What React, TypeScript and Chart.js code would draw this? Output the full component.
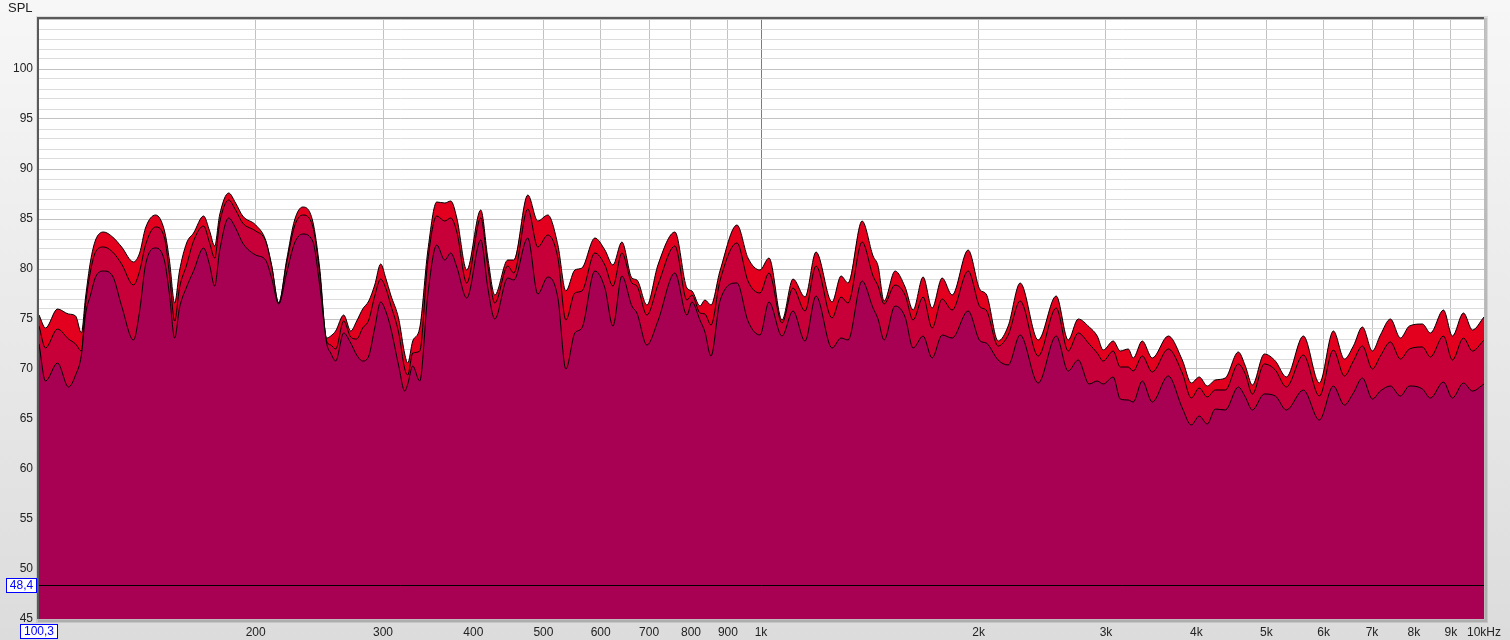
import React, { useEffect, useRef } from 'react';
import { Chart, registerables } from 'chart.js';

Chart.register(...registerables);

// Frequencies (Hz) shared by the three traces
const freqs = [
  100.3, 102.4, 106.4, 110.2, 112.7, 114.8, 116.3, 118.2, 120.1, 123.2,
  126.8, 130.5, 135.5, 138.2, 140.8, 145.4, 149.6, 152.0, 154.5, 156.9,
  160.5, 164.1, 169.4, 172.7, 175.5, 178.3, 183.5, 187.6, 191.9, 200.0,
  206.4, 210.4, 215.2, 220.7, 226.4, 232.3, 239.8, 245.2, 250.7, 254.0,
  258.0, 264.7, 270.7, 275.9, 281.2, 286.7, 292.2, 297.8, 302.6, 307.5,
  315.4, 321.5, 324.6, 329.8, 337.2, 346.0, 356.0, 365.2, 372.3, 379.5,
  391.7, 409.6, 418.9, 428.3, 446.4, 455.0, 475.8, 491.2, 507.1, 523.6,
  537.1, 552.7, 565.2, 589.1, 608.2, 623.9, 642.0, 662.8, 673.5, 695.3,
  720.1, 760.2, 789.8, 802.5, 823.2, 836.4, 852.6, 877.4, 926.3, 959.3,
  996.7, 1025.7, 1069.1, 1107.2, 1150.4, 1191.4, 1253.8, 1290.3, 1319.4, 1379.6,
  1428.8, 1451.7, 1479.8, 1532.6, 1582.2, 1623.1, 1675.6, 1724.4, 1780.3, 1837.9,
  1934.1, 2009.5, 2048.3, 2128.1, 2197.1, 2282.7, 2417.5, 2560.2, 2660.0, 2746.2,
  2844.1, 2917.6, 2973.9, 3070.2, 3139.5, 3220.5, 3272.3, 3367.5, 3476.6, 3658.4,
  3825.4, 3936.7, 4038.3, 4142.6, 4249.6, 4387.2, 4572.8, 4676.0, 4781.5, 4967.9,
  5145.1, 5328.7, 5625.4, 5919.6, 6189.7, 6410.6, 6597.1, 6789.1, 7008.9, 7189.9,
  7422.8, 7662.8, 7885.8, 8219.3, 8431.6, 8788.2, 9044.0, 9366.6, 9639.2, 10000,
];

// Upper trace (bright red)
const upperSpl = [
  75.4, 74.1, 76.0, 75.5, 75.3, 73.6, 77.1, 80.8, 82.9, 83.7,
  83.2, 82.2, 80.7, 81.6, 84.1, 85.4, 83.8, 80.8, 76.6, 79.8,
  82.6, 83.6, 85.3, 83.8, 82.3, 85.4, 87.6, 86.6, 85.3, 84.4,
  82.9, 80.4, 76.6, 80.9, 84.9, 86.2, 84.8, 80.1, 73.1, 73.3,
  73.8, 75.4, 73.8, 74.8, 76.0, 76.8, 78.4, 80.5, 79.1, 77.4,
  75.0, 71.5, 70.6, 72.8, 74.1, 81.8, 86.7, 86.6, 86.8, 85.1,
  79.9, 85.9, 81.1, 77.4, 80.9, 80.9, 87.4, 84.8, 85.4, 82.4,
  77.8, 79.9, 80.1, 83.1, 81.9, 80.4, 82.7, 79.1, 78.9, 76.4,
  80.4, 83.7, 78.1, 77.8, 76.3, 76.9, 76.4, 79.8, 84.4, 81.1,
  79.9, 81.1, 74.9, 79.0, 77.2, 81.7, 76.7, 79.3, 78.6, 84.8,
  81.3, 80.3, 76.8, 79.8, 78.2, 75.9, 79.2, 76.1, 79.1, 77.4,
  81.9, 77.9, 77.5, 72.8, 74.3, 78.6, 72.9, 77.3, 72.9, 75.0,
  74.2, 73.3, 71.9, 72.8, 71.8, 72.0, 71.1, 72.8, 71.1, 73.3,
  70.9, 68.6, 69.2, 68.3, 68.9, 69.1, 71.7, 70.3, 68.4, 71.5,
  70.8, 69.2, 73.3, 68.6, 73.8, 71.0, 72.3, 74.2, 71.8, 73.4,
  75.0, 73.1, 74.3, 74.5, 73.6, 75.9, 73.3, 75.6, 73.9, 75.2,
];

// Middle trace (crimson)
const middleSpl = [
  74.3, 72.1, 74.0, 73.0, 72.5, 71.8, 76.4, 79.8, 81.7, 82.2,
  81.7, 80.5, 78.4, 79.8, 82.4, 84.2, 83.1, 79.4, 74.8, 78.1,
  80.4, 82.8, 84.3, 82.6, 81.1, 84.6, 86.9, 85.9, 84.6, 83.8,
  82.8, 80.3, 76.6, 80.6, 84.3, 85.4, 84.3, 79.6, 72.8, 72.4,
  72.0, 74.8, 73.2, 73.0, 74.1, 74.9, 77.3, 79.0, 78.1, 76.4,
  73.6, 70.0, 69.4, 71.6, 71.8, 80.8, 85.3, 84.8, 85.1, 83.7,
  78.6, 85.1, 80.3, 76.6, 80.3, 79.6, 86.0, 82.2, 83.4, 81.1,
  74.9, 77.6, 77.8, 81.6, 80.4, 78.3, 81.6, 78.6, 78.3, 75.4,
  78.4, 82.3, 76.9, 77.4, 75.6, 75.5, 74.4, 78.8, 82.6, 78.8,
  77.6, 79.6, 74.6, 78.1, 75.8, 80.3, 75.1, 77.2, 76.6, 82.7,
  79.3, 78.3, 76.5, 78.4, 77.4, 74.9, 77.2, 74.1, 77.0, 75.9,
  79.8, 76.2, 75.9, 72.3, 73.4, 76.8, 71.3, 76.1, 71.8, 73.6,
  72.5, 71.6, 70.8, 71.8, 70.2, 70.2, 69.8, 71.3, 69.7, 72.0,
  69.6, 67.1, 68.1, 67.2, 67.9, 67.9, 70.5, 69.5, 67.5, 70.5,
  69.9, 68.2, 71.4, 67.3, 71.9, 69.3, 70.8, 72.3, 70.0, 71.3,
  72.7, 71.0, 72.0, 72.2, 71.2, 73.3, 70.9, 73.1, 71.8, 72.9,
];

// Lower trace (purple)
const lowerSpl = [
  72.5, 68.8, 70.6, 68.2, 69.4, 71.4, 75.4, 77.4, 79.2, 79.8,
  79.3, 76.3, 72.9, 75.8, 80.4, 82.1, 80.8, 77.4, 73.1, 76.1,
  78.2, 79.8, 82.1, 80.4, 78.3, 81.8, 85.1, 84.1, 82.6, 81.4,
  80.9, 79.1, 76.5, 79.6, 82.6, 83.5, 82.8, 78.4, 72.6, 71.6,
  70.8, 73.6, 72.6, 71.4, 70.8, 71.3, 74.1, 76.7, 75.8, 74.1,
  70.3, 67.8, 68.5, 70.3, 68.8, 77.4, 82.4, 80.9, 81.6, 80.2,
  77.1, 82.9, 78.1, 75.0, 79.1, 78.9, 83.1, 77.5, 79.2, 77.1,
  70.0, 73.6, 74.1, 79.8, 78.1, 74.3, 79.3, 76.3, 75.6, 72.4,
  74.8, 79.6, 75.4, 76.7, 74.9, 73.7, 71.3, 76.8, 78.6, 74.8,
  73.4, 76.7, 73.3, 75.8, 72.8, 77.3, 72.1, 73.1, 72.9, 78.8,
  76.1, 75.0, 72.9, 76.3, 75.2, 72.1, 73.3, 71.1, 73.4, 73.1,
  75.8, 72.8, 72.6, 70.9, 70.4, 73.4, 68.6, 73.3, 69.8, 70.9,
  68.5, 68.8, 68.5, 69.2, 67.0, 66.9, 66.7, 68.8, 66.7, 69.3,
  66.1, 64.4, 65.3, 64.5, 66.0, 65.9, 68.2, 67.2, 65.9, 67.5,
  67.3, 65.9, 67.9, 64.9, 68.3, 66.4, 67.6, 69.1, 67.0, 67.8,
  68.3, 67.3, 68.3, 68.0, 67.1, 68.7, 67.1, 68.6, 67.8, 68.5,
];

const xTickValues = [100.3, 200, 300, 400, 500, 600, 700, 800, 900, 1000, 2000, 3000, 4000, 5000, 6000, 7000, 8000, 9000, 10000];
const xTickLabels = ['100,3', '200', '300', '400', '500', '600', '700', '800', '900', '1k', '2k', '3k', '4k', '5k', '6k', '7k', '8k', '9k', '10kHz'];
const yMin = 45;
const yMax = 105;
const markerLevel = 48.4;
const markerLabel = '48,4';
const yAxisTitle = 'SPL';

const FONT = '"Liberation Sans", Arial, sans-serif';

const toPoints = (vals: number[]) => freqs.map((f, i) => ({ x: f, y: vals[i] }));

export default function App() {
  const canvasRef = useRef<HTMLCanvasElement | null>(null);

  useEffect(() => {
    document.body.style.margin = '0';
    const canvas = canvasRef.current;
    if (!canvas) return;

    const framePlugin = {
      id: 'framePlugin',
      beforeDraw(chart: any) {
        const { ctx, width, height, chartArea: a } = chart;
        ctx.save();
        const g = ctx.createLinearGradient(0, 0, 0, height);
        g.addColorStop(0, '#f7f7f7');
        g.addColorStop(1, '#dcdcdc');
        ctx.fillStyle = g;
        ctx.fillRect(0, 0, width, height);
        ctx.fillStyle = 'rgba(0,0,0,0.10)';
        ctx.fillRect(a.left - 3, a.top - 3, a.right - a.left + 7, a.bottom - a.top + 7);
        ctx.fillStyle = 'rgba(0,0,0,0.12)';
        ctx.fillRect(a.left - 1, a.top - 1, a.right - a.left + 4, a.bottom - a.top + 4);
        ctx.fillStyle = '#ffffff';
        ctx.fillRect(a.left, a.top, a.right - a.left, a.bottom - a.top);
        ctx.restore();
      },
      afterDatasetsDraw(chart: any) {
        const { ctx, chartArea: a, scales } = chart;
        const yM = Math.round(scales.y.getPixelForValue(markerLevel)) + 0.5;
        ctx.save();
        ctx.strokeStyle = '#000000';
        ctx.lineWidth = 1;
        ctx.beginPath();
        ctx.moveTo(a.left, yM);
        ctx.lineTo(a.right, yM);
        ctx.stroke();
        ctx.strokeStyle = '#5a5a5a';
        ctx.lineWidth = 2;
        ctx.beginPath();
        ctx.moveTo(a.left - 1, a.bottom);
        ctx.lineTo(a.left - 1, a.top - 1);
        ctx.lineTo(a.right, a.top - 1);
        ctx.stroke();
        ctx.strokeStyle = '#bdbdbd';
        ctx.lineWidth = 1;
        ctx.beginPath();
        ctx.moveTo(a.right + 0.5, a.top);
        ctx.lineTo(a.right + 0.5, a.bottom + 0.5);
        ctx.lineTo(a.left, a.bottom + 0.5);
        ctx.stroke();
        ctx.restore();
      },
      afterDraw(chart: any) {
        const { ctx, chartArea: a, scales } = chart;
        ctx.save();
        ctx.font = `13px ${FONT}`;
        ctx.fillStyle = '#222222';
        ctx.textBaseline = 'middle';
        ctx.textAlign = 'left';
        ctx.fillText(yAxisTitle, 8, 8);
        ctx.font = `12px ${FONT}`;

        const drawBox = (text: string, cx: number, cy: number, alignRight?: number) => {
          const w = ctx.measureText(text).width + 8;
          const h = 15;
          const left = alignRight !== undefined ? alignRight - w : cx - w / 2;
          const top = Math.round(cy - h / 2);
          ctx.fillStyle = '#ffffff';
          ctx.fillRect(Math.round(left), top, Math.round(w), h);
          ctx.strokeStyle = '#0000ff';
          ctx.lineWidth = 1;
          ctx.strokeRect(Math.round(left) + 0.5, top + 0.5, Math.round(w) - 1, h - 1);
          ctx.fillStyle = '#0000ff';
          ctx.textAlign = 'center';
          ctx.fillText(text, Math.round(left) + Math.round(w) / 2, top + h / 2 + 0.5);
        };
        const yM = scales.y.getPixelForValue(markerLevel);
        drawBox(markerLabel, 0, yM, a.left - 2);
        drawBox(xTickLabels[0], scales.x.getPixelForValue(xTickValues[0]), 631);
        ctx.restore();
      },
    };

    const chart = new Chart(canvas, {
      type: 'line',
      data: {
        datasets: [
          {
            label: 'lower',
            data: toPoints(lowerSpl),
            borderColor: '#000000',
            borderWidth: 1,
            backgroundColor: '#a80052',
            fill: 'start',
            pointRadius: 0,
            cubicInterpolationMode: 'monotone',
          },
          {
            label: 'middle',
            data: toPoints(middleSpl),
            borderColor: '#000000',
            borderWidth: 1,
            backgroundColor: '#c8003a',
            fill: 'start',
            pointRadius: 0,
            cubicInterpolationMode: 'monotone',
          },
          {
            label: 'upper',
            data: toPoints(upperSpl),
            borderColor: '#000000',
            borderWidth: 1,
            backgroundColor: '#e2001e',
            fill: 'start',
            pointRadius: 0,
            cubicInterpolationMode: 'monotone',
          },
        ],
      },
      options: {
        responsive: false,
        animation: false,
        devicePixelRatio: 1,
        layout: { padding: { left: 0, top: 19, right: 26, bottom: 0 } },
        plugins: {
          legend: { display: false },
          tooltip: { enabled: false },
        },
        scales: {
          x: {
            type: 'logarithmic',
            min: 100.3,
            max: 10000,
            afterBuildTicks: (s: any) => {
              s.ticks = xTickValues.map((v) => ({ value: v }));
            },
            afterFit: (s: any) => {
              s.height = 21;
            },
            ticks: {
              autoSkip: false,
              maxRotation: 0,
              minRotation: 0,
              padding: 6,
              color: '#222222',
              font: { family: FONT, size: 12 },
              callback: (_v: any, i: number) => (i === 0 ? '' : xTickLabels[i]),
            },
            grid: {
              drawTicks: false,
              lineWidth: 1,
              color: (c: any) => {
                const v = c.tick ? c.tick.value : 0;
                if (v === 1000) return '#7c7c7c';
                if (v === 100.3) return 'rgba(0,0,0,0)';
                return '#c2c2c2';
              },
            },
            border: { display: false },
          },
          y: {
            type: 'linear',
            min: yMin,
            max: yMax,
            afterFit: (s: any) => {
              s.width = 39;
            },
            ticks: {
              stepSize: 1,
              autoSkip: false,
              maxTicksLimit: 200,
              padding: 6,
              color: '#222222',
              font: { family: FONT, size: 12 },
              callback: (v: any) => (Number(v) % 5 === 0 && Number(v) < yMax ? String(v) : ''),
            },
            grid: {
              drawTicks: false,
              lineWidth: 1,
              color: (c: any) => {
                const v = c.tick ? c.tick.value : 0;
                return v % 5 === 0 ? '#c2c2c2' : '#dcdcdc';
              },
            },
            border: { display: false },
          },
        },
      },
      plugins: [framePlugin],
    } as any);

    return () => chart.destroy();
  }, []);

  return (
    <div style={{ width: 1510, height: 640 }}>
      <canvas ref={canvasRef} width={1510} height={640} style={{ width: 1510, height: 640, display: 'block' }} />
    </div>
  );
}
